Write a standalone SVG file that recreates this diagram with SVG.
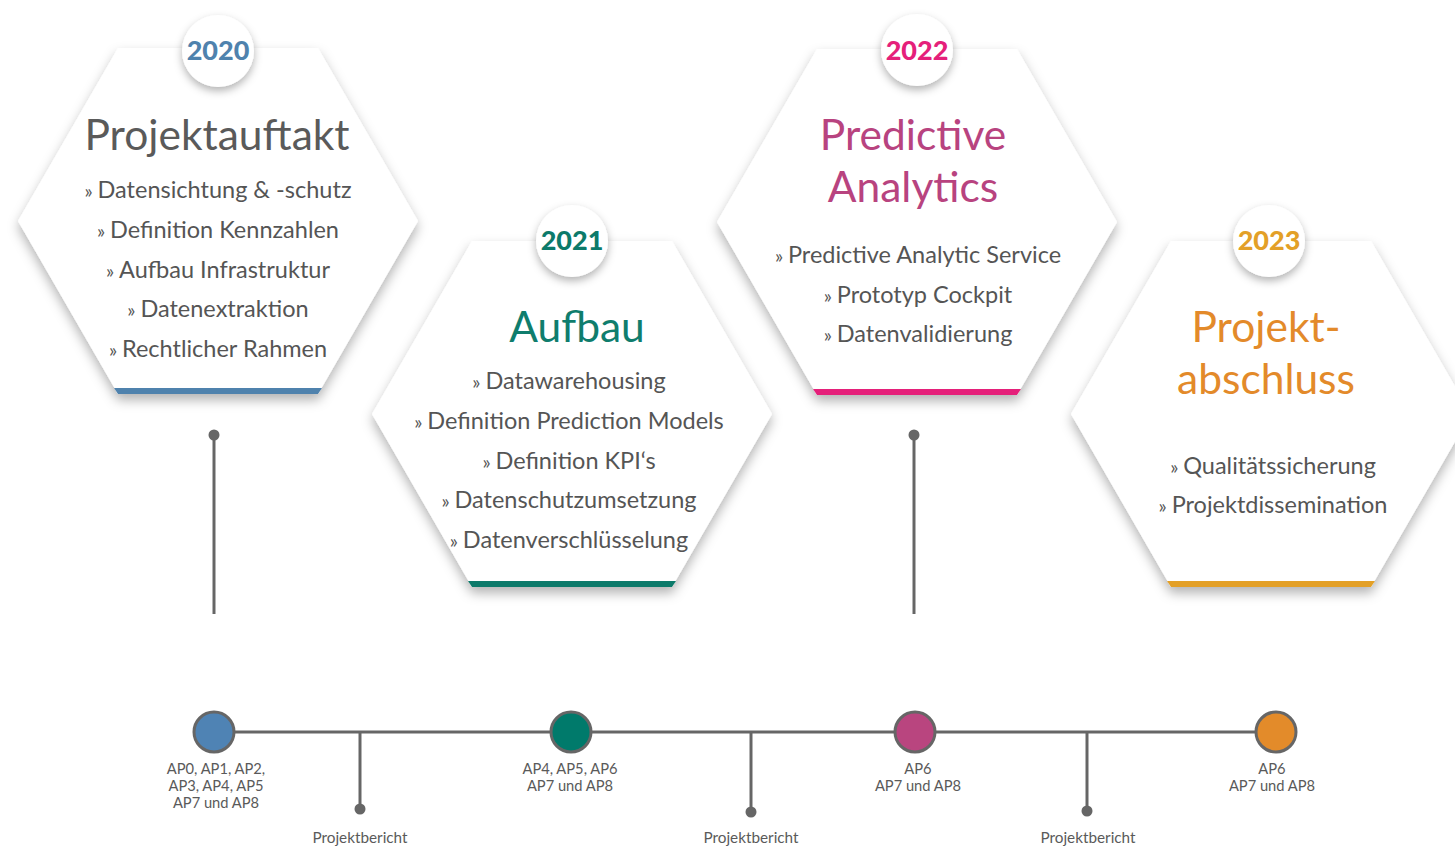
<svg xmlns="http://www.w3.org/2000/svg" width="1455" height="847" viewBox="0 0 1455 847">
  <defs>
    <filter id="hexShadow" x="-20%" y="-20%" width="140%" height="150%">
      <feDropShadow dx="0" dy="6" stdDeviation="6" flood-color="#000" flood-opacity="0.3"/>
    </filter>
    <filter id="badgeShadow" x="-40%" y="-40%" width="180%" height="190%">
      <feDropShadow dx="0" dy="4" stdDeviation="4" flood-color="#000" flood-opacity="0.3"/>
    </filter>
    <!-- regular flat-topped hexagon, R = 200, centred on origin -->
    <polygon id="hex" points="-100,-173 100,-173 200,0 100,173 -100,173 -200,0"/>
    <polygon id="bar" points="-104,167 104,167 100,173 -100,173"/>
  </defs>
  <style>
    text { font-family: Lato, "Open Sans", "Liberation Sans", sans-serif; }
    .hexbody { fill: #ffffff; filter: url(#hexShadow); }
    .badge { fill: #ffffff; filter: url(#badgeShadow); }
    .year { font-size: 27px; font-weight: 900; text-anchor: middle; }
    .title { font-size: 42.5px; text-anchor: middle; }
    .item { font-size: 23.5px; fill: #555555; text-anchor: middle; }
    .item tspan.q { font-size: 19px; }
    .ap { font-size: 14.7px; fill: #5a5a5a; text-anchor: middle; }
    .rep { font-size: 15.3px; fill: #5a5a5a; text-anchor: middle; }
    .link { stroke: #666666; stroke-width: 3; fill: none; }
    .dot { fill: #666666; }
    .milestone { stroke: #666666; stroke-width: 3; }
  </style>
  <rect width="1455" height="847" fill="#ffffff"/>

  <!-- connectors -->
  <g id="connectors">
    <line class="link" x1="214" y1="435" x2="214" y2="614"/>
    <circle class="dot" cx="214" cy="435" r="5.5"/>
    <line class="link" x1="914" y1="435" x2="914" y2="614"/>
    <circle class="dot" cx="914" cy="435" r="5.5"/>
    <line class="link" x1="214" y1="732" x2="1276" y2="732"/>
    <line class="link" x1="360" y1="732" x2="360" y2="809"/>
    <circle class="dot" cx="360" cy="809" r="5.5"/>
    <line class="link" x1="751" y1="732" x2="751" y2="812"/>
    <circle class="dot" cx="751" cy="812" r="5.5"/>
    <line class="link" x1="1087" y1="732" x2="1087" y2="811"/>
    <circle class="dot" cx="1087" cy="811" r="5.5"/>
  </g>

  <!-- phase 2020 -->
  <g id="phase2020" transform="translate(218,221)">
    <use href="#hex" class="hexbody"/>
    <use href="#bar" fill="#4f82ad"/>
    <circle class="badge" cx="0" cy="-170" r="36"/>
    <text class="year" x="0" y="-161" fill="#4f82ad">2020</text>
    <text class="title" x="-1" y="-71" fill="#5a5a5a">Projektauftakt</text>
    <text class="item" x="0" y="-23"><tspan class="q">» </tspan>Datensichtung &amp; -schutz</text>
    <text class="item" x="0" y="17"><tspan class="q">» </tspan>Definition Kennzahlen</text>
    <text class="item" x="0" y="57"><tspan class="q">» </tspan>Aufbau Infrastruktur</text>
    <text class="item" x="0" y="96"><tspan class="q">» </tspan>Datenextraktion</text>
    <text class="item" x="0" y="136"><tspan class="q">» </tspan>Rechtlicher Rahmen</text>
  </g>

  <!-- phase 2021 -->
  <g id="phase2021" transform="translate(572,414)">
    <use href="#hex" class="hexbody"/>
    <use href="#bar" fill="#0c7a6a"/>
    <circle class="badge" cx="0" cy="-173" r="36"/>
    <text class="year" x="0" y="-164" fill="#0c7a6a">2021</text>
    <text class="title" x="5" y="-72" fill="#0f7d6d">Aufbau</text>
    <text class="item" x="-3" y="-25"><tspan class="q">» </tspan>Datawarehousing</text>
    <text class="item" x="-3" y="15"><tspan class="q">» </tspan>Definition Prediction Models</text>
    <text class="item" x="-3" y="55"><tspan class="q">» </tspan>Definition KPI‘s</text>
    <text class="item" x="-3" y="94"><tspan class="q">» </tspan>Datenschutzumsetzung</text>
    <text class="item" x="-3" y="134"><tspan class="q">» </tspan>Datenverschlüsselung</text>
  </g>

  <!-- phase 2022 -->
  <g id="phase2022" transform="translate(917,222)">
    <use href="#hex" class="hexbody"/>
    <use href="#bar" fill="#e5207a"/>
    <circle class="badge" cx="0" cy="-172" r="36"/>
    <text class="year" x="0" y="-162" fill="#e5207a">2022</text>
    <text class="title" x="-4" y="-72" fill="#b8437f">Predictive</text>
    <text class="title" x="-4" y="-20" fill="#b8437f">Analytics</text>
    <text class="item" x="1" y="41"><tspan class="q">» </tspan>Predictive Analytic Service</text>
    <text class="item" x="1" y="81"><tspan class="q">» </tspan>Prototyp Cockpit</text>
    <text class="item" x="1" y="120"><tspan class="q">» </tspan>Datenvalidierung</text>
  </g>

  <!-- phase 2023 -->
  <g id="phase2023" transform="translate(1271,414)">
    <use href="#hex" class="hexbody"/>
    <use href="#bar" fill="#e3a027"/>
    <circle class="badge" cx="-2" cy="-173" r="36"/>
    <text class="year" x="-2" y="-164" fill="#e3a027">2023</text>
    <text class="title" x="-5" y="-72" fill="#e38a2a">Projekt-</text>
    <text class="title" x="-5" y="-20" fill="#e38a2a">abschluss</text>
    <text class="item" x="2" y="60"><tspan class="q">» </tspan>Qualitätssicherung</text>
    <text class="item" x="2" y="99"><tspan class="q">» </tspan>Projektdissemination</text>
  </g>

  <!-- timeline milestones -->
  <g id="milestone2020">
    <circle class="milestone" cx="214" cy="732" r="20" fill="#4f83b4"/>
    <text class="ap" x="216" y="774">AP0, AP1, AP2,</text>
    <text class="ap" x="216" y="791">AP3, AP4, AP5</text>
    <text class="ap" x="216" y="808">AP7 und AP8</text>
  </g>
  <g id="milestone2021">
    <circle class="milestone" cx="571" cy="732" r="20" fill="#007a6b"/>
    <text class="ap" x="570" y="774">AP4, AP5, AP6</text>
    <text class="ap" x="570" y="791">AP7 und AP8</text>
  </g>
  <g id="milestone2022">
    <circle class="milestone" cx="915" cy="732" r="20" fill="#b9457f"/>
    <text class="ap" x="918" y="774">AP6</text>
    <text class="ap" x="918" y="791">AP7 und AP8</text>
  </g>
  <g id="milestone2023">
    <circle class="milestone" cx="1276" cy="732" r="20" fill="#e38b2a"/>
    <text class="ap" x="1272" y="774">AP6</text>
    <text class="ap" x="1272" y="791">AP7 und AP8</text>
  </g>

  <!-- report markers -->
  <g id="report1"><text class="rep" x="360" y="843">Projektbericht</text></g>
  <g id="report2"><text class="rep" x="751" y="843">Projektbericht</text></g>
  <g id="report3"><text class="rep" x="1088" y="843">Projektbericht</text></g>
</svg>
